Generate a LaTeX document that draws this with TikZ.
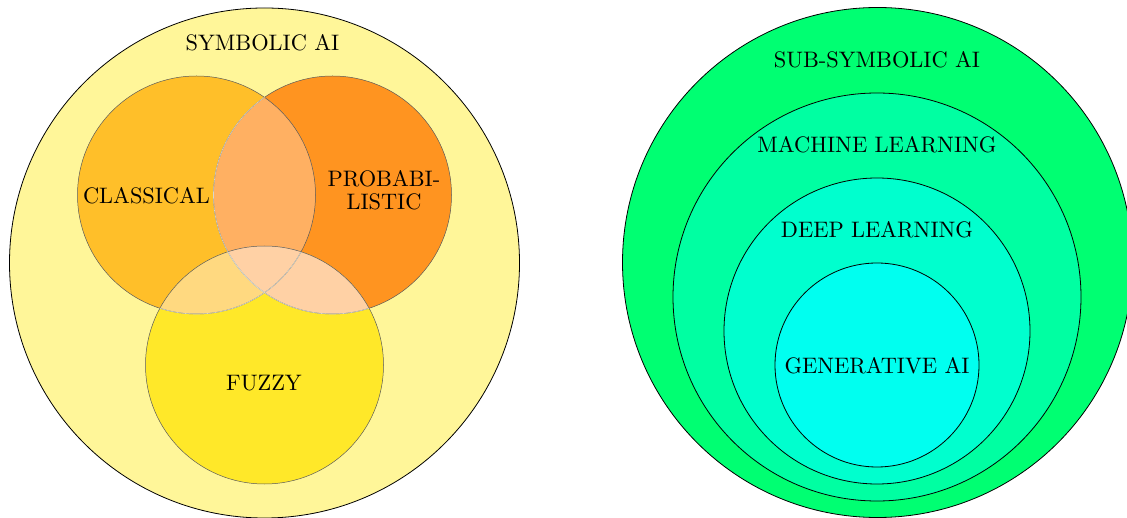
\documentclass[tikz,border=0pt]{standalone}
\font\lblfont=cmr10 at 22.4pt
\definecolor{symb}{RGB}{255,246,153}
\definecolor{cls}{RGB}{255,191,41}
\definecolor{prb}{RGB}{255,148,32}
\definecolor{fuz}{RGB}{255,232,41}
\definecolor{cpx}{RGB}{255,176,98}
\definecolor{cfx}{RGB}{255,217,128}
\definecolor{pfx}{RGB}{255,209,165}
\definecolor{subs}{RGB}{0,255,114}
\definecolor{mlc}{RGB}{0,255,162}
\definecolor{dlc}{RGB}{0,255,206}
\definecolor{genc}{RGB}{0,255,240}
\definecolor{vline}{RGB}{90,90,90}
\definecolor{vlight}{RGB}{215,215,205}
\begin{document}
\begin{tikzpicture}[x=1pt,y=-1pt,
  lbl/.style={inner sep=0pt, font={\lblfont\baselineskip=22.8pt}, align=center},
  outerline/.style={draw=black, line width=0.8pt},
  vennline/.style={draw=vline, line width=0.5pt},
  lightline/.style={draw=vlight, line width=0.6pt}]
\useasboundingbox (0,0) rectangle (1127,518);
% ---------- left: symbolic AI ----------
\coordinate (cS) at (264.5,263);
\coordinate (cC) at (196.5,195);
\coordinate (cP) at (332.5,195);
\coordinate (cF) at (264.5,365);
\fill[symb] (cS) circle[radius=255pt];
\draw[outerline] (cS) circle[radius=255pt];
\fill[cls] (cC) circle[radius=119pt];
\fill[prb] (cP) circle[radius=119pt];
\fill[fuz] (cF) circle[radius=119pt];
\begin{scope}
  \clip (cC) circle[radius=119pt];
  \fill[cpx] (cP) circle[radius=119pt];
  \fill[cfx] (cF) circle[radius=119pt];
\end{scope}
\begin{scope}
  \clip (cP) circle[radius=119pt];
  \fill[pfx] (cF) circle[radius=119pt];
\end{scope}
\draw[vennline] (cC) circle[radius=119pt];
\draw[vennline] (cP) circle[radius=119pt];
\draw[vennline] (cF) circle[radius=119pt];
\begin{scope}
  \clip (cC) circle[radius=119pt];
  \draw[lightline] (cP) circle[radius=119pt];
\end{scope}
\begin{scope}
  \clip (cF) circle[radius=119pt];
  \draw[lightline] (cC) circle[radius=119pt];
  \draw[lightline] (cP) circle[radius=119pt];
\end{scope}
\node[lbl] (symbolic) at (262.5,43) {SYMBOLIC AI};
\node[lbl] (classical) at (146.5,196) {CLASSICAL};
\node[lbl] (probabilistic) at (384,190.5) {PROBABI-\\LISTIC};
\node[lbl] (fuzzy) at (264,383) {FUZZY};
% ---------- right: sub-symbolic AI ----------
\coordinate (cSS) at (877.5,262.5);
\coordinate (cML) at (877,297);
\coordinate (cDL) at (877,331);
\coordinate (cGA) at (877,365);
\fill[subs] (cSS) circle[radius=255pt];
\draw[outerline] (cSS) circle[radius=255pt];
\fill[mlc] (cML) circle[radius=204pt];
\draw[outerline] (cML) circle[radius=204pt];
\fill[dlc] (cDL) circle[radius=153pt];
\draw[outerline] (cDL) circle[radius=153pt];
\fill[genc] (cGA) circle[radius=102pt];
\draw[outerline] (cGA) circle[radius=102pt];
\node[lbl] (subsymbolic) at (877,60) {SUB-SYMBOLIC AI};
\node[lbl] (ml) at (877,145) {MACHINE LEARNING};
\node[lbl] (dl) at (877,230) {DEEP LEARNING};
\node[lbl] (gen) at (877,366) {GENERATIVE AI};
\end{tikzpicture}
\end{document}
